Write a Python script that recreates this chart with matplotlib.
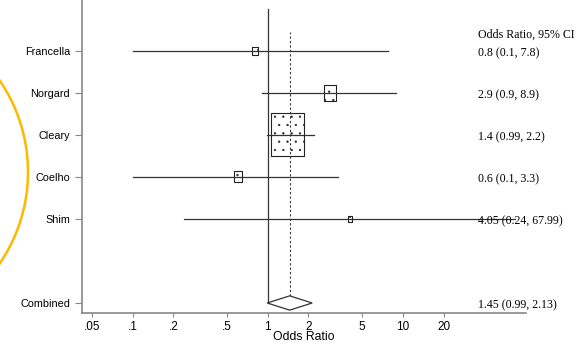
import matplotlib.pyplot as plt
import matplotlib.patches as mpatches
import matplotlib.transforms as mtrans
from matplotlib.path import Path
import numpy as np

studies = ["Francella", "Norgard", "Cleary", "Coelho", "Shim", "Combined"]
rows = [7, 6, 5, 4, 3, 1]
odds = [0.8, 2.9, 1.4, 0.6, 4.05]
ci_low = [0.1, 0.9, 0.99, 0.1, 0.24]
ci_high = [7.8, 8.9, 2.2, 3.3, 67.99]
weights = [2.4, 11.1, 79.5, 5.2, 1.7]  # study weights (%) -> box size
pooled = 1.45
pooled_low = 0.99
pooled_high = 2.13
ci_labels = ["0.8 (0.1, 7.8)", "2.9 (0.9, 8.9)", "1.4 (0.99, 2.2)",
             "0.6 (0.1, 3.3)", "4.05 (0.24, 67.99)", "1.45 (0.99, 2.13)"]
xticks = [0.05, 0.1, 0.2, 0.5, 1, 2, 5, 10, 20]
xticklabels = [".05", ".1", ".2", ".5", "1", "2", "5", "10", "20"]

plt.rcParams["hatch.linewidth"] = 0.4

fig = plt.figure(figsize=(5.8, 3.46), dpi=100)
ax = fig.add_axes([82 / 580, 1 - 313 / 346, 444 / 580, 313 / 346])
ax.set_xscale("log")
ax.set_xlim(0.0421, 81.5)
ax.set_ylim(0.762, 8.21)

# reference line at OR = 1 and dashed line at pooled estimate
ax.plot([1, 1], [1, 8.0], color="#333333", lw=0.9, zorder=3)
ax.plot([pooled, pooled], [1.17, 7.45], color="#333333", lw=0.8,
        ls=(0, (2, 2)), zorder=3)

# confidence intervals
study_rows = rows[:5]
for lo, hi, y in zip(ci_low, ci_high, study_rows):
    ax.plot([lo, hi], [y, y], color="#333333", lw=0.9, zorder=3)

# weighted boxes (taller than wide)
rect = Path([(-0.375, -0.5), (0.375, -0.5), (0.375, 0.5), (-0.375, 0.5), (-0.375, -0.5)],
            [Path.MOVETO, Path.LINETO, Path.LINETO, Path.LINETO, Path.CLOSEPOLY])
heights_pt = 4.82 * np.sqrt(weights) * 0.72
ax.scatter(odds, study_rows, s=heights_pt ** 2, marker=rect, facecolors="white",
           edgecolors="#222222", linewidths=0.8, hatch="..", zorder=2)

# pooled diamond
ax.fill([pooled_low, pooled, pooled_high, pooled],
        [1, 1.17, 1, 0.83], facecolor="white", edgecolor="#333333", lw=0.9, zorder=4)

# right-hand text column
tr = mtrans.blended_transform_factory(ax.transAxes, ax.transData)
ax.text(0.892, 7.38, "Odds Ratio, 95% CI", transform=tr, fontsize=8.6,
        family="Liberation Serif", va="center", ha="left")
for y, lab in zip(rows, ci_labels):
    ax.text(0.892, y - 0.05, lab, transform=tr, fontsize=8.6,
            family="Liberation Serif", va="center", ha="left", zorder=5)

ax.set_yticks(rows)
ax.set_yticklabels(studies, fontsize=7.8, family="Liberation Sans")
ax.set_xticks(xticks)
ax.set_xticklabels(xticklabels, fontsize=8.5, family="Liberation Sans")
ax.xaxis.set_minor_locator(plt.NullLocator())
ax.tick_params(axis="y", length=5, width=0.8, color="#888888", pad=3.5)
ax.tick_params(axis="x", length=3, width=0.8, color="#888888", pad=2.5)
ax.set_xlabel("Odds Ratio", fontsize=8.8, family="Liberation Sans", labelpad=-1)

for side in ["top", "right"]:
    ax.spines[side].set_visible(False)
for side in ["left", "bottom"]:
    ax.spines[side].set_color("#888888")
    ax.spines[side].set_linewidth(1.2)
ax.patch.set_alpha(0)

# orange highlight circle on the left edge
circle = mpatches.Ellipse((-134 / 580, 1 - 172 / 346), 324 / 580, 324 / 346,
                          transform=fig.transFigure, fill=False,
                          edgecolor="#FFB800", lw=1.8, clip_on=False)
fig.add_artist(circle)

fig.savefig("out.png", dpi=100)
